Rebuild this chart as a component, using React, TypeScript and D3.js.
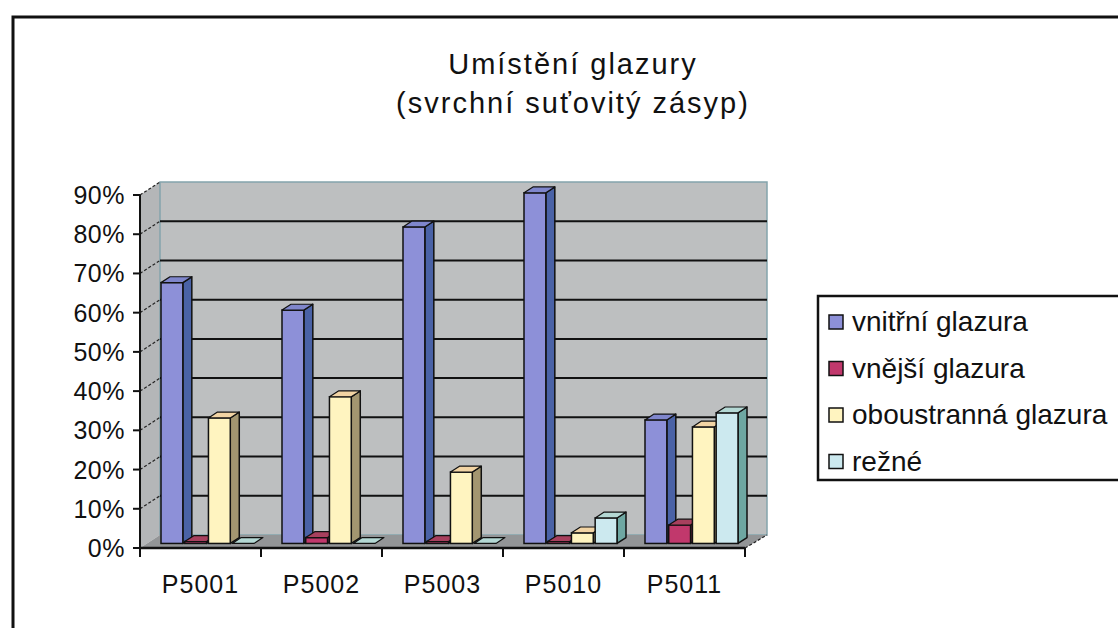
import React, { useEffect, useRef } from 'react';
import * as d3 from 'd3';

const categories = ['P5001', 'P5002', 'P5003', 'P5010', 'P5011'];
const seriesNames = ['vnitřní glazura', 'vnější glazura', 'oboustranná glazura', 'režné'];
const vnitrni = [0.665, 0.595, 0.807, 0.894, 0.315];
const vnejsi = [0.005, 0.015, 0.005, 0.005, 0.047];
const oboustranna = [0.32, 0.374, 0.182, 0.027, 0.297];
const rezne = [0, 0, 0, 0.065, 0.333];
const yTicks = [0, 0.1, 0.2, 0.3, 0.4, 0.5, 0.6, 0.7, 0.8, 0.9];
const titleLines = ['Umístění glazury', '(svrchní suťovitý zásyp)'];

// front, side, top colours per series
const palette = [
    { front: '#8d90d8', side: '#4a62a6', top: '#7f86cc' },
    { front: '#c1386c', side: '#7e2346', top: '#a8405e' },
    { front: '#fff4c0', side: '#a39670', top: '#f2d4a4' },
    { front: '#cce9ef', side: '#6ea7a2', top: '#b4d8d4' }
];

export default function App() {
    const svgRef = useRef<SVGSVGElement>(null);
    const width = 1118;
    const height = 628;

    useEffect(() => {
        if (!svgRef.current) return;
        const svg = d3.select(svgRef.current);
        svg.selectAll('*').remove();

        const values = [vnitrni, vnejsi, oboustranna, rezne];
        const font = '"Liberation Sans", Arial, sans-serif';

        // 3d geometry
        const left = 140, right = 745;
        const depthX = 20, depthY = -13;
        const fFront = 0.35, fBack = 0.8;

        const y = d3.scaleLinear().domain([0, 0.9]).range([548, 195]);
        const x0 = d3.scaleBand().domain(categories).range([left, right]);
        const x1 = d3.scaleBand().domain(seriesNames).range([14, x0.bandwidth() - 14]).paddingInner(0.08);

        // outer border
        svg.append('rect')
            .attr('x', 13).attr('y', 17)
            .attr('width', width + 20).attr('height', height)
            .attr('fill', '#fff').attr('stroke', '#111').attr('stroke-width', 3);

        // title
        titleLines.forEach((t, i) => {
            svg.append('text')
                .attr('x', 573).attr('y', 74 + i * 39)
                .attr('text-anchor', 'middle')
                .style('font-family', font).style('font-size', '29px')
                .style('letter-spacing', '2px')
                .attr('fill', '#111')
                .text(t);
        });

        const y0 = y(0), yTop = y(0.9);

        // side wall
        svg.append('polygon')
            .attr('points', [[left, yTop], [left + depthX, yTop + depthY], [left + depthX, y0 + depthY], [left, y0]].map(p => p.join(',')).join(' '))
            .attr('fill', '#b4b6b8');

        // back wall
        svg.append('rect')
            .attr('x', left + depthX).attr('y', yTop + depthY)
            .attr('width', right - left + 2).attr('height', y0 - yTop)
            .attr('fill', '#bdbfc0').attr('stroke', '#84a4ac').attr('stroke-width', 1.5);

        // floor
        svg.append('polygon')
            .attr('points', [[left, y0], [right, y0], [right + depthX + 2, y0 + depthY], [left + depthX, y0 + depthY]].map(p => p.join(',')).join(' '))
            .attr('fill', '#939597');

        // gridlines on back wall + diagonal on side wall
        yTicks.slice(1, -1).forEach(t => {
            svg.append('line')
                .attr('x1', left + depthX).attr('x2', right + depthX + 2)
                .attr('y1', y(t) + depthY).attr('y2', y(t) + depthY)
                .attr('stroke', '#111').attr('stroke-width', 2);
        });
        yTicks.slice(1).forEach(t => {
            svg.append('line')
                .attr('x1', left).attr('x2', left + depthX)
                .attr('y1', y(t)).attr('y2', y(t) + depthY)
                .attr('stroke', '#222').attr('stroke-width', 1.2)
                .attr('stroke-dasharray', '3,2');
        });

        // bars
        const g = svg.append('g');
        categories.forEach((c, ci) => {
            seriesNames.forEach((s, si) => {
                const v = values[si][ci];
                const bx = (x0(c) ?? 0) + (x1(s) ?? 0);
                const bw = x1.bandwidth();
                const fx = bx + fFront * depthX;
                const fy = fFront * depthY;
                const bdx = (fBack - fFront) * depthX;
                const bdy = (fBack - fFront) * depthY;
                const base = y0 + fy;
                const top = y(v) + fy;
                const col = palette[si];
                if (v > 0) {
                    g.append('polygon')
                        .attr('points', [[fx + bw, top], [fx + bw + bdx, top + bdy], [fx + bw + bdx, base + bdy], [fx + bw, base]].map(p => p.join(',')).join(' '))
                        .attr('fill', col.side).attr('stroke', '#111').attr('stroke-width', 1.5)
                        .attr('stroke-linejoin', 'round');
                    g.append('rect')
                        .attr('x', fx).attr('y', top)
                        .attr('width', bw).attr('height', base - top)
                        .attr('fill', col.front).attr('stroke', '#111').attr('stroke-width', 1.5);
                }
                g.append('polygon')
                    .attr('points', [[fx, top], [fx + bdx, top + bdy], [fx + bw + bdx, top + bdy], [fx + bw, top]].map(p => p.join(',')).join(' '))
                    .attr('fill', col.top).attr('stroke', '#111').attr('stroke-width', 1.2)
                    .attr('stroke-linejoin', 'round');
            });
        });

        // y axis
        svg.append('line')
            .attr('x1', left).attr('x2', left).attr('y1', yTop).attr('y2', y0)
            .attr('stroke', '#111').attr('stroke-width', 2);
        yTicks.forEach(t => {
            svg.append('line')
                .attr('x1', left - 7).attr('x2', left).attr('y1', y(t)).attr('y2', y(t))
                .attr('stroke', '#111').attr('stroke-width', 2);
            svg.append('text')
                .attr('x', left - 15).attr('y', y(t) + 9)
                .attr('text-anchor', 'end')
                .style('font-family', font).style('font-size', '25px')
                .style('letter-spacing', '0.5px')
                .attr('fill', '#111')
                .text(`${Math.round(t * 100)}%`);
        });

        // x axis
        svg.append('line')
            .attr('x1', left).attr('x2', right).attr('y1', y0).attr('y2', y0)
            .attr('stroke', '#111').attr('stroke-width', 2.5);
        svg.append('line')
            .attr('x1', right).attr('x2', right + depthX + 2).attr('y1', y0).attr('y2', y0 + depthY)
            .attr('stroke', '#222').attr('stroke-width', 1.2).attr('stroke-dasharray', '3,2');
        [...categories.map(c => x0(c) ?? 0), right].forEach(xv => {
            svg.append('line')
                .attr('x1', xv).attr('x2', xv).attr('y1', y0).attr('y2', y0 + 9)
                .attr('stroke', '#111').attr('stroke-width', 2);
        });
        categories.forEach(c => {
            svg.append('text')
                .attr('x', (x0(c) ?? 0) + x0.bandwidth() / 2).attr('y', 593)
                .attr('text-anchor', 'middle')
                .style('font-family', font).style('font-size', '25px')
                .style('letter-spacing', '1px')
                .attr('fill', '#111')
                .text(c);
        });

        // legend
        svg.append('rect')
            .attr('x', 818).attr('y', 296)
            .attr('width', 330).attr('height', 184)
            .attr('fill', '#fff').attr('stroke', '#111').attr('stroke-width', 2.5);
        seriesNames.forEach((s, i) => {
            const ly = 322 + i * 46.5;
            svg.append('rect')
                .attr('x', 829).attr('y', ly - 7)
                .attr('width', 14).attr('height', 14)
                .attr('fill', palette[i].front).attr('stroke', '#111').attr('stroke-width', 1.5);
            svg.append('text')
                .attr('x', 852).attr('y', ly + 9)
                .style('font-family', font).style('font-size', '28px')
                .attr('fill', '#111')
                .text(s);
        });
    }, []);

    return (
        <svg
            ref={svgRef}
            width={width}
            height={height}
            style={{ position: 'absolute', left: 0, top: 0, background: '#fff' }}
        />
    );
}
